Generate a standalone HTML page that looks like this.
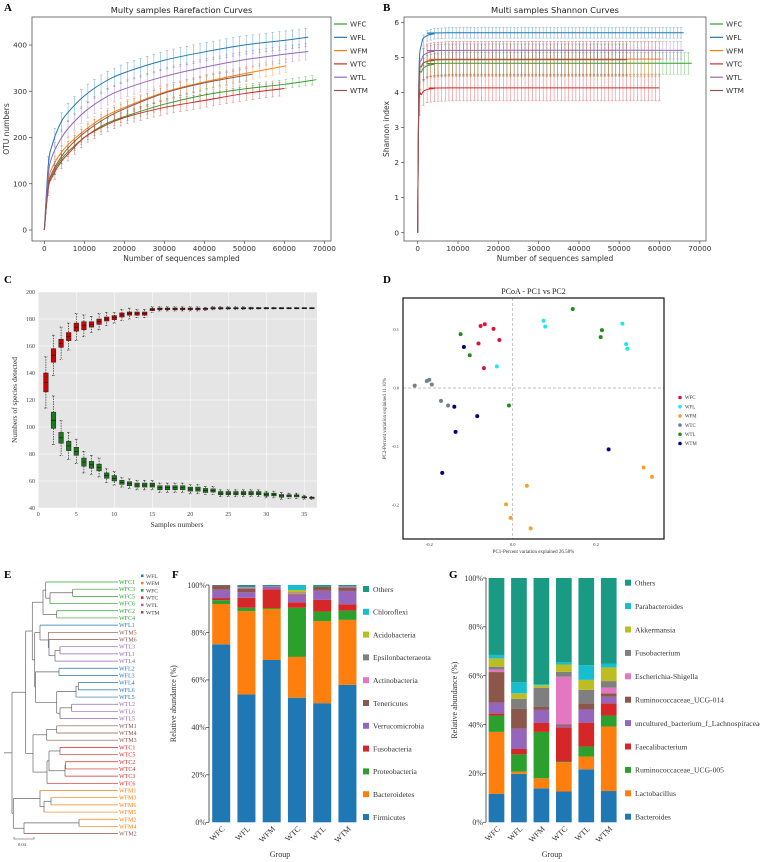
<!DOCTYPE html>
<html><head><meta charset="utf-8"><style>
html,body{margin:0;padding:0;background:#fff}
svg{display:block}
.sans{font-family:"DejaVu Sans","Liberation Sans",sans-serif}
.serif{font-family:"Liberation Serif","DejaVu Serif",serif}
</style></head><body>
<svg id="fig" width="760" height="862" viewBox="0 0 760 862" xmlns="http://www.w3.org/2000/svg"></svg>
<script>
// ---------- DATA ----------
const groupNames = ["WFC","WFL","WFM","WTC","WTL","WTM"];
const groupColors = ["#2ca02c","#1f77b4","#ff7f0e","#d62728","#9467bd","#8c564b"];
// Panel A rarefaction
const rareX_WFC = [0,1000,2000,4000,6000,10000,15000,20000,30000,40000,50000,60000,68000];
const rareY_WFC = [0,95,120,150,170,200,228,245,272,292,305,315,325];
const rareX_WFL = [0,1000,2000,4000,6000,10000,15000,20000,30000,40000,50000,60000,66000];
const rareY_WFL = [0,140,185,230,255,290,320,340,367,385,400,410,417];
const rareX_WFM = [0,1000,2000,4000,6000,10000,15000,20000,30000,40000,50000,60500];
const rareY_WFM = [0,105,135,165,185,215,245,265,298,320,338,355];
const rareX_WTC = [0,1000,2000,4000,6000,10000,15000,20000,30000,40000,50000,60000];
const rareY_WTC = [0,90,115,145,165,200,225,243,265,280,295,306];
const rareX_WTL = [0,1000,2000,4000,6000,10000,15000,20000,30000,40000,50000,60000,66000];
const rareY_WTL = [0,120,160,195,220,255,285,305,332,352,368,380,386];
const rareX_WTM = [0,1000,2000,4000,6000,10000,15000,20000,30000,40000,52000];
const rareY_WTM = [0,95,125,155,178,210,240,262,296,318,337];
const rareErr = [10,20,15,15,18,14];
const rareXTicks = [0,10000,20000,30000,40000,50000,60000,70000];
const rareYTicks = [0,100,200,300,400];
// Panel B shannon
const shanX_WFC = [0,300,1000,2000,4000,8000,68000];
const shanY_WFC = [0,4.1,4.6,4.74,4.8,4.83,4.83];
const shanX_WFL = [0,300,1000,2000,4000,8000,66000];
const shanY_WFL = [0,4.5,5.4,5.6,5.67,5.7,5.7];
const shanX_WFM = [0,300,1000,2000,4000,8000,60500];
const shanY_WFM = [0,4.2,4.75,4.88,4.93,4.95,4.95];
const shanX_WTC = [0,300,1000,2000,4000,8000,60000];
const shanY_WTC = [0,3.6,3.95,4.07,4.11,4.13,4.13];
const shanX_WTL = [0,300,1000,2000,4000,8000,66000];
const shanY_WTL = [0,4.3,4.95,5.1,5.17,5.2,5.2];
const shanX_WTM = [0,300,1000,2000,4000,8000,52000];
const shanY_WTM = [0,4.2,4.75,4.87,4.91,4.93,4.93];
const shanErr = [0.31,0.15,0.5,0.37,0.25,0.45];
const shanYTicks = [0,1,2,3,4,5,6];
// Panel C species accumulation
const redMed = [133,153,162,167,174,175,176,178,180,181,183,184,184,184,187,187.5,187.5,187.5,187.5,187.5,187.5,187.5,188,188,188,188,188,188,188,188,188,188,188,188,188,188];
const redBox = [7,5,3,3,3,3,2,2,1.5,1.5,1.5,1.2,1.2,1.2,0.8,0.6,0.6,0.6,0.6,0.6,0.6,0.5,0.5,0.5,0.4,0.4,0.4,0.3,0.3,0.3,0.3,0.2,0.2,0.2,0.2,0.2];
const redWhisk = [19,15,12,10,10,8,6,6,5,4,4,4,3,3,2,1.5,1.5,1.5,1.5,1.5,1.5,1.2,1.2,1,1,1,1,0.8,0.6,0.6,0.6,0.5,0.5,0.5,0.4,0.4];
const greenMed = [105,92,86,82,74,72,70,64,62,59,58,57,57,57,55,55,55,55,54,54,53,53,51,51,51,51,51,51,50,50,49,49,49,48,47.5];
const greenBox = [6,4,3.5,3,3,2.5,2.5,2,2,1.5,1.5,1.5,1.5,1.5,1.5,1.5,1.5,1.5,1.5,1.5,1.5,1.2,1.2,1.2,1.2,1.2,1.2,1.2,1.2,1,1,0.8,0.8,0.5,0.3];
const greenWhisk = [18,13,10,9,8,7,7,5,5,3.5,3.5,3.5,3.5,3.5,3.5,3.5,3.5,3.5,3.5,3.5,3,3,2.5,2.5,2.5,2.5,2.5,2.5,2.5,2.5,2.5,2,2,1.5,1];
const accXTicks = [0,5,10,15,20,25,30,35];
const accYTicks = [40,60,80,100,120,140,160,180,200];
// Panel D PCoA
const pcoaGroups = ["WFC","WFL","WFM","WTC","WTL","WTM"];
const pcoaColors = ["#dc143c","#22e5f0","#f5a030","#708090","#228b22","#000080"];
const pc1_WFC = [-0.077,-0.067,-0.046,-0.032,-0.082,-0.069];
const pc2_WFC = [0.106,0.109,0.101,0.082,0.076,0.034];
const pc1_WFL = [0.074,0.078,-0.038,0.263,0.272,0.275];
const pc2_WFL = [0.115,0.105,0.037,0.110,0.075,0.067];
const pc1_WFM = [0.034,-0.016,-0.005,0.043,0.314,0.334];
const pc2_WFM = [-0.167,-0.199,-0.222,-0.240,-0.136,-0.152];
const pc1_WTC = [-0.235,-0.206,-0.200,-0.194,-0.172,-0.155];
const pc2_WTC = [0.004,0.012,0.014,0.006,-0.022,-0.030];
const pc1_WTL = [-0.125,-0.103,-0.009,0.144,0.214,0.211];
const pc2_WTL = [0.092,0.056,-0.030,0.135,0.099,0.087];
const pc1_WTM = [-0.117,-0.140,-0.085,-0.137,-0.169,0.230];
const pc2_WTM = [0.070,-0.032,-0.048,-0.075,-0.145,-0.105];
const pcXTicks = [-0.2,0.0,0.2];
const pcYTicks = [0.1,0.0,-0.1,-0.2];
// Panel E dendrogram
const treeLegend = ["WFL","WFM","WFC","WTC","WTL","WTM"];
// Panel F phylum
const phylaNames = ["Firmicutes","Bacteroidetes","Proteobacteria","Fusobacteria","Verrucomicrobia","Tenericutes","Actinobacteria","Epsilonbacteraeota","Acidobacteria","Chloroflexi","Others"];
const phylaColors = ["#1f77b4","#ff7f0e","#2ca02c","#d62728","#9467bd","#8c564b","#e377c2","#7f7f7f","#bcbd22","#17becf","#1a9a82"];
const phy_WFC = [75,17,1.6,0.9,3.5,1.8,0,0,0,0,0.2];
const phy_WFL = [53.9,35.1,1.4,4.2,2.3,1.6,0.6,0,0,0,0.9];
const phy_WFM = [68.4,21.5,0.4,7.9,1.1,0.2,0,0,0,0,0.5];
const phy_WTC = [52.5,17.2,20.7,2.3,2.8,0.6,0.4,0.4,1.0,2.1,0];
const phy_WTL = [50.2,34.6,4,4.9,3.9,1.7,0,0,0,0,0.7];
const phy_WTM = [57.9,27.4,3.9,2.7,5.6,1.5,0.4,0,0,0,0.6];
// Panel G genus
const genusNames = ["Bacteroides","Lactobacillus","Ruminococcaceae_UCG-005","Faecalibacterium","uncultured_bacterium_f_Lachnospiraceae","Ruminococcaceae_UCG-014","Escherichia-Shigella","Fusobacterium","Akkermansia","Parabacteroides","Others"];
const gen_WFC = [11.6,25.4,6.7,0.8,4.5,12.5,1,1.2,3.4,1.4,31.5];
const gen_WFL = [19.8,0.9,7.1,2.2,8.3,8.1,0,4.1,2.3,4.5,42.7];
const gen_WFM = [13.9,4.1,19,3.8,5.2,1.2,0,7.9,1,0.5,43.4];
const gen_WTC = [12.6,12,0.3,14,0.7,0.5,19.5,2,3,1,34.4];
const gen_WTL = [21.7,5.2,4.1,9.8,5.4,2.5,0,5.5,4.1,6,35.7];
const gen_WTM = [12.8,26.4,4.5,5,2.7,1.4,2.3,2.7,5.6,1.6,35];
const pctTicks = [0,20,40,60,80,100];

// ---------- HELPERS ----------
const NS="http://www.w3.org/2000/svg";
const svg=document.getElementById('fig');
function mk(tag,attrs,parent){const e=document.createElementNS(NS,tag);for(const k in attrs)e.setAttribute(k,attrs[k]);(parent||svg).appendChild(e);return e;}
function txt(s,attrs,parent){const e=mk('text',attrs,parent);e.textContent=s;return e;}
function lin(xs,ys,x){if(x<=xs[0])return ys[0];for(let i=1;i<xs.length;i++){if(x<=xs[i]){const t=(x-xs[i-1])/(xs[i]-xs[i-1]);return ys[i-1]+t*(ys[i]-ys[i-1]);}}return ys[ys.length-1];}
function smoothPath(pts){let d='M'+pts[0][0]+','+pts[0][1];for(let i=0;i<pts.length-1;i++){const p0=pts[i-1]||pts[i],p1=pts[i],p2=pts[i+1],p3=pts[i+2]||p2;const c1x=p1[0]+(p2[0]-p0[0])/6,c1y=p1[1]+(p2[1]-p0[1])/6,c2x=p2[0]-(p3[0]-p1[0])/6,c2y=p2[1]-(p3[1]-p1[1])/6;d+=' C'+c1x.toFixed(2)+','+c1y.toFixed(2)+' '+c2x.toFixed(2)+','+c2y.toFixed(2)+' '+p2[0].toFixed(2)+','+p2[1].toFixed(2);}return d;}
function letter(s,x,y){const t=txt(s,{x:x,y:y,'font-size':11,'font-weight':'bold',class:'serif'});}

// ---------- LINE PANELS (A,B) ----------
function linePanel(cfg){
  const g=mk('g',{});
  
  
  const sx=v=>cfg.x0+(v-cfg.xmin)*cfg.kx, sy=v=>cfg.y0-(v-cfg.ymin)*cfg.ky;
  const t=txt(cfg.title,{x:(cfg.L+cfg.R)/2,y:13,'text-anchor':'middle','font-size':8.3,fill:'#222',class:'sans'},g);
  
  cfg.yt.forEach(v=>{const y=sy(v);const tk=mk('line',{x1:cfg.L-3,x2:cfg.L,y1:y,y2:y,stroke:'#444','stroke-width':0.7},g);
    const l=txt(String(v),{x:cfg.L-5,y:y+2.6,'text-anchor':'end','font-size':7.3,fill:'#333',class:'sans'},g);});
  rareXTicks.forEach(v=>{const x=sx(v);const tk=mk('line',{x1:x,x2:x,y1:cfg.B,y2:cfg.B+3,stroke:'#444','stroke-width':0.7},g);
    const l=txt(String(v),{x:x,y:cfg.B+10,'text-anchor':'middle','font-size':7.3,fill:'#333',class:'sans'},g);});
  const xl=txt('Number of sequences sampled',{x:(cfg.L+cfg.R)/2,y:261,'text-anchor':'middle','font-size':7.5,fill:'#333',class:'sans'},g);
  const yl=txt(cfg.ylabel,{x:0,y:0,'text-anchor':'middle','font-size':7.5,fill:'#333',class:'sans',transform:'translate('+cfg.ylx+','+((cfg.T+cfg.B)/2)+') rotate(-90)'},g);
  groupNames.forEach((nm,i)=>{
    const xs=cfg.xs[i], ys=cfg.ys[i], col=groupColors[i], end=xs[xs.length-1];
    const sg=mk('g',{},g);
    for(let v=cfg.step*0.6; v<=end; v+=cfg.step){const yv=lin(xs,ys,v);const x=sx(v);
      const eb=mk('path',{d:'M'+x+','+sy(yv-cfg.err[i])+'V'+sy(yv+cfg.err[i])+'M'+(x-1.2)+','+sy(yv-cfg.err[i])+'h2.4M'+(x-1.2)+','+sy(yv+cfg.err[i])+'h2.4',stroke:col,'stroke-width':0.6,opacity:0.55,fill:'none'},sg);
      }
    const pts=xs.map((v,k)=>[sx(v),sy(ys[k])]);
    const p=mk('path',{d:smoothPath(pts),stroke:col,'stroke-width':1,fill:'none'},sg);
    
    const ly=24+i*13.3;
    const lg=mk('g',{},g);
    mk('line',{x1:cfg.lgx,x2:cfg.lgx+13,y1:ly,y2:ly,stroke:col,'stroke-width':1.2},lg);
    txt(nm,{x:cfg.lgx+16,y:ly+2.7,'font-size':7.3,fill:'#333',class:'sans'},lg);
  });
  const fr=mk('rect',{x:cfg.L,y:cfg.T,width:cfg.R-cfg.L,height:cfg.B-cfg.T,fill:'none',stroke:'#555','stroke-width':0.8},g);
  
}
letter('A',4,11);
linePanel({name:'rarefaction-chart',title:'Multy samples Rarefaction Curves',L:32,R:331,T:17,B:241,x0:44.3,xmin:0,kx:40/10000,y0:230,ymin:0,ky:46.25/100,
  yt:rareYTicks,ylabel:'OTU numbers',ylx:9,lgx:334,step:1650,err:rareErr,
  xs:[rareX_WFC,rareX_WFL,rareX_WFM,rareX_WTC,rareX_WTL,rareX_WTM],ys:[rareY_WFC,rareY_WFL,rareY_WFM,rareY_WTC,rareY_WTL,rareY_WTM]});
letter('B',383,11);
linePanel({name:'shannon-chart',title:'Multi samples Shannon Curves',L:404,R:706,T:17,B:241,x0:417.7,xmin:0,kx:40.3/10000,y0:232.7,ymin:0,ky:35.07,
  yt:shanYTicks,ylabel:'Shannon index',ylx:389,lgx:710,step:900,err:shanErr,
  xs:[shanX_WFC,shanX_WFL,shanX_WFM,shanX_WTC,shanX_WTL,shanX_WTM],ys:[shanY_WFC,shanY_WFL,shanY_WFM,shanY_WTC,shanY_WTL,shanY_WTM]});

// ---------- PANEL C ----------
letter('C',4,283);
(function(){
  const g=mk('g',{});
  const L=38,R=317,T=292,B=508;
  const sx=v=>38.3+v*7.6, sy=v=>508-(v-40)*27/20;
  const bg=mk('rect',{x:L,y:T,width:R-L,height:B-T,fill:'#e5e5e5'},g);
  accXTicks.forEach(v=>{const x=sx(v);const gl=mk('line',{x1:x,x2:x,y1:T,y2:B,stroke:'#fff','stroke-width':0.5},g);
    const l=txt(String(v),{x:x,y:B+8,'text-anchor':'middle','font-size':6,fill:'#444',class:'serif'},g);});
  accYTicks.forEach(v=>{const y=sy(v);const gl=mk('line',{x1:L,x2:R,y1:y,y2:y,stroke:'#fff','stroke-width':0.5},g);
    const l=txt(String(v),{x:L-3,y:y+2,'text-anchor':'end','font-size':6,fill:'#444',class:'serif'},g);});
  function boxes(med,bx,wh,start,fill,nm){
    const sg=mk('g',{},g);
    med.forEach((m,i)=>{const x=sx(start+i),w=2.3;
      const wk=mk('path',{d:'M'+x+','+sy(m+wh[i])+'V'+sy(m-wh[i])+'M'+(x-1.5)+','+sy(m+wh[i])+'h3M'+(x-1.5)+','+sy(m-wh[i])+'h3',stroke:'#111','stroke-width':0.6,'stroke-dasharray':'1.5,1',fill:'none'},sg);
      
      const hb=Math.max(bx[i]*27/20,0.6);
      const r=mk('rect',{x:x-w,y:sy(m)-hb,width:2*w,height:2*hb,fill:fill,stroke:'#222','stroke-width':0.5},sg);
      
      const md=mk('line',{x1:x-w,x2:x+w,y1:sy(m),y2:sy(m),stroke:'#111','stroke-width':0.6},sg);
      });
  }
  boxes(redMed,redBox,redWhisk,1,'#d00000','series-species-detected');
  boxes(greenMed,greenBox,greenWhisk,2,'#1a7a1a','series-core-species');
  const xl=txt('Samples numbers',{x:177,y:527,'text-anchor':'middle','font-size':7.5,fill:'#333',class:'serif'},g);
  const yl=txt('Numbers of species detected',{x:0,y:0,'text-anchor':'middle','font-size':7.5,fill:'#333',class:'serif',transform:'translate(17,400) rotate(-90)'},g);
})();

// ---------- PANEL D ----------
letter('D',383,283);
(function(){
  const g=mk('g',{});
  const L=403,R=664,T=298,B=539;
  const sx=v=>512.7+v*417, sy=v=>388-v*585;
  const t=txt('PCoA - PC1 vs PC2',{x:(L+R)/2,y:294,'text-anchor':'middle','font-size':8,fill:'#222',class:'serif'},g);
  const d1=mk('line',{x1:sx(0),x2:sx(0),y1:T,y2:B,stroke:'#aaa','stroke-width':0.7,'stroke-dasharray':'3,2'},g);
  const d2=mk('line',{x1:L,x2:R,y1:sy(0),y2:sy(0),stroke:'#aaa','stroke-width':0.7,'stroke-dasharray':'3,2'},g);
  pcXTicks.forEach(v=>{const x=sx(v);const l=txt(v.toFixed(1),{x:x,y:B+7,'text-anchor':'middle','font-size':4.5,fill:'#333',class:'serif'},g);});
  pcYTicks.forEach(v=>{const y=sy(v);const l=txt(v.toFixed(1),{x:L-4,y:y+1.5,'text-anchor':'end','font-size':4.5,fill:'#333',class:'serif'},g);});
  const pcs=[[pc1_WFC,pc2_WFC],[pc1_WFL,pc2_WFL],[pc1_WFM,pc2_WFM],[pc1_WTC,pc2_WTC],[pc1_WTL,pc2_WTL],[pc1_WTM,pc2_WTM]];
  pcoaGroups.forEach((nm,i)=>{const sg=mk('g',{},g);
    pcs[i][0].forEach((v,k)=>{const c=mk('circle',{cx:sx(v),cy:sy(pcs[i][1][k]),r:2,fill:pcoaColors[i]},sg);});
    const ly=397.5+i*9.2;const lg=mk('g',{},g);
    mk('circle',{cx:680,cy:ly,r:1.8,fill:pcoaColors[i]},lg);
    txt(nm,{x:685,y:ly+1.7,'font-size':4.8,fill:'#333',class:'serif'},lg);});
  const fr=mk('rect',{x:L,y:T,width:R-L,height:B-T,fill:'none',stroke:'#111','stroke-width':1.2},g);
  const xl=txt('PC1-Percent variation explained 26.58%',{x:(L+R)/2,y:553,'text-anchor':'middle','font-size':5,fill:'#333',class:'serif'},g);
  const yl=txt('PC2-Percent variation explained 11.10%',{x:0,y:0,'text-anchor':'middle','font-size':5,fill:'#333',class:'serif',transform:'translate(386,'+((T+B)/2)+') rotate(-90)'},g);
})();

// ---------- PANEL E ----------
letter('E',4,578);
const treeData={x:12,c:[
  {x:25.7,c:[
    {x:32.3,c:[
      {x:43,c:[{x:45.7,c:['WFC1',{x:50,c:[{x:72.7,c:['WFC3','WFC5']},'WFC6']}]},{x:56.7,c:['WFC2','WFC4']}]},
      {x:34.7,c:[
        {x:40,c:['WFL1',{x:48.3,c:['WTM5',{x:49,c:['WTM6',{x:55,c:[{x:60,c:['WTL3','WTL1']},'WTL4']}]}]}]},
        {x:35.5,c:[{x:59,c:['WFL2','WFL3']},{x:56.7,c:[{x:76,c:[{x:78.3,c:['WFL4','WFL6']},'WFL5']},{x:60,c:[{x:71.7,c:['WTL2','WTL6']},'WTL5']}]}]}
      ]}
    ]},
    {x:33,c:[{x:46.7,c:[{x:56.7,c:['WTM1','WTM4']},'WTM3']},{x:47,c:[{x:49,c:[{x:60,c:['WTC1','WTC5']},{x:65,c:[{x:65.5,c:['WTC2','WTC4']},'WTC3']}]},'WTC6']}]}
  ]},
  {x:13.3,c:[{x:40,c:['WFM1',{x:44,c:[{x:51,c:['WFM3','WFM6']},'WFM5']}]},{x:24,c:[{x:79,c:['WFM2','WFM4']},'WTM2']}]}
]};
(function(){
  const g=mk('g',{});
  const colOf=s=>groupColors[groupNames.indexOf(s.slice(0,3))];
  let idx=0;const leafX=118;
  function lay(n){if(typeof n==='string'){const y=582+idx*7.19;idx++;return {y:y,x:leafX,leaf:n};}
    const kids=n.c.map(lay);const y=(kids[0].y+kids[kids.length-1].y)/2;
    const v=mk('line',{x1:n.x,x2:n.x,y1:kids[0].y,y2:kids[kids.length-1].y,stroke:'#666','stroke-width':0.7},g);
    kids.forEach(k=>{const h=mk('line',{x1:n.x,x2:k.leaf?leafX:k.nx,y1:k.y,y2:k.y,stroke:k.leaf?colOf(k.leaf):'#666','stroke-width':0.7},g);
      if(k.leaf){const t=txt(k.leaf,{x:leafX+1,y:k.y+2,'font-size':6,fill:colOf(k.leaf),class:'serif'},g);}});
    return {y:y,nx:n.x};}
  const r=lay(treeData);
  const rl=mk('line',{x1:4,x2:12,y1:r.y,y2:r.y,stroke:'#666','stroke-width':0.7},g);
  treeLegend.forEach((nm,i)=>{const y=576+i*7.3;const lg=mk('g',{},g);
    mk('rect',{x:141,y:y-1.5,width:2.5,height:2.5,fill:groupColors[groupNames.indexOf(nm)]},lg);
    txt(nm,{x:146,y:y+1.8,'font-size':5.5,fill:'#333',class:'serif'},lg);});
  const sb=mk('path',{d:'M14,837V839H34V837',stroke:'#444','stroke-width':0.6,fill:'none'},g);
  const st=txt('0.04',{x:18,y:846,'font-size':4.5,fill:'#333',class:'serif'},g);
})();

// ---------- STACKED BARS (F,G) ----------
function stacked(cfg){
  const g=mk('g',{});
  const sy=v=>cfg.B-v/100*(cfg.B-cfg.T);
  const ax=mk('line',{x1:cfg.ax,x2:cfg.ax,y1:cfg.T,y2:cfg.B,stroke:'#333','stroke-width':0.8},g);
  pctTicks.forEach(v=>{const y=sy(v);const tk=mk('line',{x1:cfg.ax-3,x2:cfg.ax,y1:y,y2:y,stroke:'#333','stroke-width':0.7},g);
    const l=txt(v+'%',{x:cfg.ax-3,y:y+2.8,'text-anchor':'end','font-size':8,fill:'#333',class:'serif'},g);});
  groupNames.forEach((nm,i)=>{const cx=cfg.c0+i*cfg.dx;let acc=0;const bg=mk('g',{},g);
    cfg.vals[i].forEach((v,k)=>{if(v<=0)return;const r=mk('rect',{x:cx-cfg.w/2,y:sy(acc+v),width:cfg.w,height:sy(acc)-sy(acc+v),fill:phylaColors[k]},bg);acc+=v;});
    const top=mk('rect',{x:cx-cfg.w/2,y:sy(100),width:cfg.w,height:Math.max(0,sy(acc)-sy(100)),fill:phylaColors[10]},bg);
    const l=txt(nm,{x:0,y:0,'text-anchor':'end','font-size':8,fill:'#333',class:'serif',transform:'translate('+(cx+4)+','+(cfg.B+7)+') rotate(-45)'},g);});
  const xl=txt('Group',{x:cfg.gx,y:857,'text-anchor':'middle','font-size':8,fill:'#333',class:'serif'},g);
  const yl=txt('Relative abundance (%)',{x:0,y:0,'text-anchor':'middle','font-size':8,fill:'#333',class:'serif',transform:'translate('+cfg.ylx+','+((cfg.T+cfg.B)/2)+') rotate(-90)'},g);
  for(let k=10;k>=0;k--){const y=cfg.l0+(10-k)*cfg.ldy;const lg=mk('g',{},g);
    mk('rect',{x:cfg.lx,y:y-3,width:6,height:6,fill:phylaColors[k]},lg);
    txt(cfg.names[k],{x:cfg.lx+10,y:y+2.8,'font-size':7.6,fill:'#333',class:'serif'},lg);}
}
letter('F',172,578);
stacked({name:'phylum-bar-chart',ax:209,T:585,B:822.3,c0:221.2,dx:25.25,w:18,gx:280,ylx:176,lx:363,l0:589,ldy:22.8,names:phylaNames,vals:[phy_WFC,phy_WFL,phy_WFM,phy_WTC,phy_WTL,phy_WTM]});
letter('G',449,578);
stacked({name:'genus-bar-chart',ax:486,T:578,B:822.3,c0:496.5,dx:22.45,w:15.7,gx:552,ylx:457,lx:625,l0:582.7,ldy:23.4,names:genusNames,vals:[gen_WFC,gen_WFL,gen_WFM,gen_WTC,gen_WTL,gen_WTM]});
</script>
</body></html>
